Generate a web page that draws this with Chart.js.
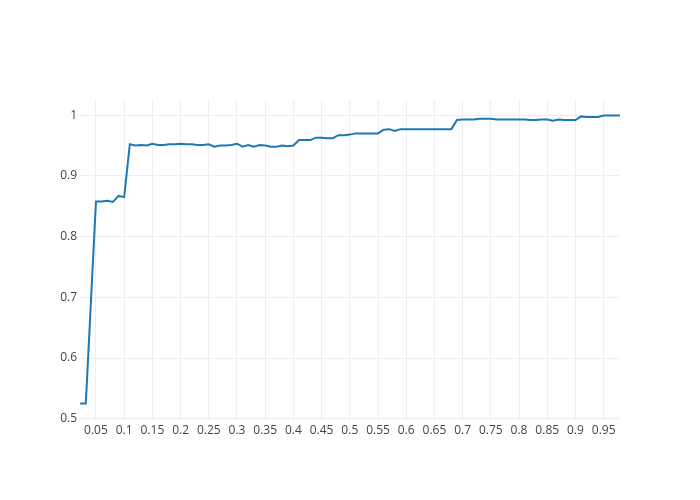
<!DOCTYPE html>
<html>
<head>
<meta charset="utf-8">
<script src="https://cdn.jsdelivr.net/npm/chart.js@4"></script>
<style>
  html, body { margin: 0; padding: 0; background: #fff; }
  #wrap { width: 700px; height: 500px; }
</style>
</head>
<body>
<div id="wrap"><canvas id="chart" width="700" height="500"></canvas></div>
<script>
// x positions of the samples
const xValues = [0.022, 0.032, 0.05, 0.06, 0.07, 0.08, 0.09, 0.10,
  0.11, 0.12, 0.13, 0.14, 0.15, 0.16, 0.17, 0.18, 0.19, 0.20,
  0.21, 0.22, 0.23, 0.24, 0.25, 0.26, 0.27, 0.28, 0.29, 0.30,
  0.31, 0.32, 0.33, 0.34, 0.35, 0.36, 0.37, 0.38, 0.39, 0.40,
  0.41, 0.42, 0.43, 0.44, 0.45, 0.46, 0.47, 0.48, 0.49, 0.50,
  0.51, 0.52, 0.53, 0.54, 0.55, 0.56, 0.57, 0.58, 0.59, 0.60,
  0.61, 0.62, 0.63, 0.64, 0.65, 0.66, 0.67, 0.68, 0.69, 0.70,
  0.71, 0.72, 0.73, 0.74, 0.75, 0.76, 0.77, 0.78, 0.79, 0.80,
  0.81, 0.82, 0.83, 0.84, 0.85, 0.86, 0.87, 0.88, 0.89, 0.90,
  0.91, 0.92, 0.93, 0.94, 0.95, 0.96, 0.97, 0.979];

// y values
const yValues = [0.525, 0.525, 0.858, 0.858, 0.859, 0.857, 0.867, 0.865,
  0.952, 0.950, 0.951, 0.950, 0.953, 0.951, 0.951, 0.952, 0.952, 0.953,
  0.952, 0.952, 0.951, 0.951, 0.952, 0.948, 0.950, 0.950, 0.951, 0.953,
  0.948, 0.951, 0.948, 0.951, 0.950, 0.948, 0.948, 0.950, 0.949, 0.950,
  0.959, 0.959, 0.959, 0.963, 0.963, 0.962, 0.962, 0.967, 0.967, 0.968,
  0.970, 0.970, 0.970, 0.970, 0.970, 0.976, 0.977, 0.974, 0.977, 0.977,
  0.977, 0.977, 0.977, 0.977, 0.977, 0.977, 0.977, 0.977, 0.992, 0.993,
  0.993, 0.993, 0.994, 0.994, 0.994, 0.993, 0.993, 0.993, 0.993, 0.993,
  0.993, 0.992, 0.992, 0.993, 0.993, 0.991, 0.993, 0.992, 0.992, 0.992,
  0.998, 0.997, 0.997, 0.997, 0.9995, 0.9995, 0.9995, 0.9995];

const xTicks = [0.05, 0.1, 0.15, 0.2, 0.25, 0.3, 0.35, 0.4, 0.45, 0.5,
  0.55, 0.6, 0.65, 0.7, 0.75, 0.8, 0.85, 0.9, 0.95];
const yTicks = [0.5, 0.6, 0.7, 0.8, 0.9, 1];

const points = xValues.map((x, i) => ({ x: x, y: yValues[i] }));

const tickFont = { family: '"Open Sans", "Noto Sans", sans-serif', size: 12 };

new Chart(document.getElementById('chart').getContext('2d'), {
    type: 'line',
    data: {
        datasets: [{
            data: points,
            borderColor: '#1f77b4',
            borderWidth: 2,
            pointRadius: 0,
            tension: 0,
            fill: false
        }]
    },
    options: {
        responsive: false,
        animation: false,
        layout: { padding: { top: 100, right: 80, left: 0, bottom: 0 } },
        plugins: { legend: { display: false }, tooltip: { enabled: false } },
        scales: {
            x: {
                type: 'linear',
                min: 0.0217,
                max: 0.979,
                afterFit: s => { s.height = 80; },
                afterBuildTicks: s => { s.ticks = xTicks.map(v => ({ value: v })); },
                ticks: {
                    color: '#444',
                    font: tickFont,
                    padding: 3,
                    maxRotation: 0,
                    autoSkip: false,
                    callback: v => String(+v.toFixed(2))
                },
                grid: { color: '#eeeeee', lineWidth: 1, drawTicks: false },
                border: { display: false }
            },
            y: {
                min: 0.498,
                max: 1.025,
                afterFit: s => { s.width = 80; },
                afterBuildTicks: s => { s.ticks = yTicks.map(v => ({ value: v })); },
                ticks: {
                    color: '#444',
                    font: tickFont,
                    padding: 3,
                    callback: v => String(+v.toFixed(2))
                },
                grid: { color: '#eeeeee', lineWidth: 1, drawTicks: false },
                border: { display: false }
            }
        }
    }
});
</script>
</body>
</html>
